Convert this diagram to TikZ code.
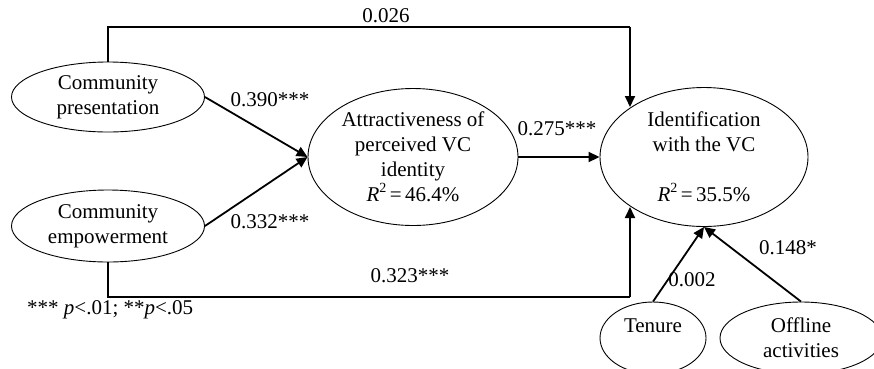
\documentclass[tikz,border=0pt]{standalone}
\usepackage{fontspec}
\setmainfont{Liberation Serif}
\usetikzlibrary{arrows.meta,shapes.geometric}
\tikzset{
  oval/.style={draw, ellipse, line width=0.9pt, inner sep=0pt, align=center,
    font=\fontsize{21}{25}\selectfont},
  conn/.style={line width=1.8pt},
  arr/.style={line width=1.8pt, -{Triangle[length=11pt,width=10pt]}},
  lbl/.style={font=\fontsize{21}{25}\selectfont, inner sep=0pt},
}
\newcommand{\rsq}[1]{\textit{R}\raisebox{0.45em}{\fontsize{14}{14}\selectfont 2}\,=\,#1\%}
\begin{document}
\begin{tikzpicture}[x=1pt,y=-1pt]
\useasboundingbox (0,0) rectangle (874,368);
\node[oval, minimum width=193pt, minimum height=70pt] (pres) at (108,97) {Community\\presentation};
\node[oval, minimum width=193pt, minimum height=72pt] (emp) at (108,226) {Community\\empowerment};
\node[oval, minimum width=210pt, minimum height=137pt] (attr) at (413,157) {Attractiveness of\\perceived VC\\identity\\\rsq{46.4}};
\node[oval, minimum width=208pt, minimum height=139pt] (ident) at (704,157) {Identification\\with the VC\\[25pt]\rsq{35.5}};
\node[oval, minimum width=106pt, minimum height=72pt] (ten) at (653,338) {Tenure\\\mbox{}};
\node[oval, minimum width=162pt, minimum height=72pt] (off) at (801,338) {Offline\\activities};

\coordinate (t1) at (108,27);
\coordinate (t2) at (630,27);
\coordinate (t3) at (630,107);
\coordinate (b1) at (108,297);
\coordinate (b2) at (630,297);
\coordinate (b3) at (630,207);

\draw[conn] (pres.north) -- (t1) -- (t2);
\draw[arr] (t2) -- (t3);
\draw[conn] (emp.south) -- (b1) -- (b2);
\draw[arr] (b2) -- (b3);
\draw[arr] (pres.east) -- (attr.west);
\draw[arr] (emp.east) -- (attr.west);
\draw[arr] (attr.east) -- (ident.west);
\draw[arr] (ten.north) -- (ident.south);
\draw[arr] (off.north) -- (ident.south);

\node[lbl] (l1) at (386,16) {0.026};
\node[lbl] (l2) at (270,100) {0.390***};
\node[lbl] (l3) at (270,222) {0.332***};
\node[lbl] (l4) at (557,129) {0.275***};
\node[lbl] (l5) at (410,276) {0.323***};
\node[lbl] (l6) at (692,280) {0.002};
\node[lbl] (l7) at (788,248) {0.148*};
\node[lbl, anchor=west] (fn) at (27,310) {*** \textit{p}<.01; **\textit{p}<.05};
\end{tikzpicture}
\end{document}
